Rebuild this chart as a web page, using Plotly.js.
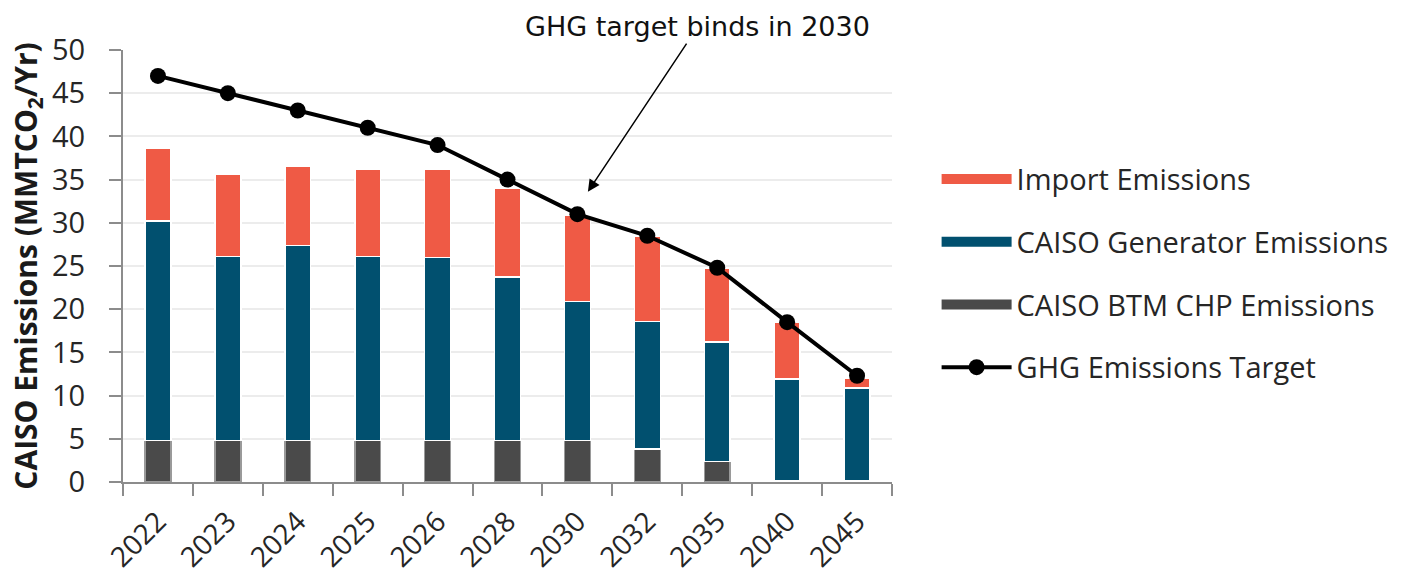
<!DOCTYPE html>
<html>
<head>
<meta charset="utf-8">
<script src="https://cdn.plot.ly/plotly-3.0.1.min.js"></script>
<style>html,body{margin:0;padding:0;background:#fff;}#chart{width:1406px;height:581px;}</style>
</head>
<body>
<div id="chart"></div>
<script>
const years = ["2022","2023","2024","2025","2026","2028","2030","2032","2035","2040","2045"];
const btmChp = [4.8, 4.8, 4.8, 4.8, 4.8, 4.8, 4.8, 3.8, 2.4, 0.1, 0.1];
const caisoGen = [25.4, 21.3, 22.6, 21.3, 21.2, 18.9, 16.1, 14.8, 13.8, 11.8, 10.8];
const imports = [8.4, 9.5, 9.2, 10.1, 10.2, 10.3, 10.0, 9.8, 8.5, 6.6, 1.1];
const ghgTarget = [47, 45, 43, 41, 39, 35, 31, 28.5, 24.8, 18.5, 12.3];

const seriesNames = ["Import Emissions", "CAISO Generator Emissions", "CAISO BTM CHP Emissions", "GHG Emissions Target"];
const seriesColors = ["#ef5a45", "#01506f", "#4a4a4a", "#000000"];

const FONT = "Open Sans, Noto Sans, sans-serif";
const TXT = "#262626";

const traces = [
  {type:"bar", name:seriesNames[2], x:years, y:btmChp, showlegend:false,
   marker:{color:seriesColors[2], line:{color:"#9a9a9a", width:1.5}}},
  {type:"bar", name:seriesNames[1], x:years, y:caisoGen, showlegend:false,
   marker:{color:seriesColors[1], line:{color:"#ffffff", width:1.5}}},
  {type:"bar", name:seriesNames[0], x:years, y:imports, showlegend:false,
   marker:{color:seriesColors[0], line:{color:"#ffffff", width:1.5}}},
  {type:"scatter", mode:"lines+markers", name:seriesNames[3], x:years, y:ghgTarget,
   line:{color:seriesColors[3], width:4}, marker:{color:seriesColors[3], size:16},
   legendrank:4, legendgroup:"d"},
  // legend keys for the stacked bar series (wide rectangles as in the reference)
  {type:"scatter", mode:"lines", name:seriesNames[0], x:[null], y:[null],
   line:{color:seriesColors[0], width:15}, legendrank:1, legendgroup:"a", hoverinfo:"skip"},
  {type:"scatter", mode:"lines", name:seriesNames[1], x:[null], y:[null],
   line:{color:seriesColors[1], width:15}, legendrank:2, legendgroup:"b", hoverinfo:"skip"},
  {type:"scatter", mode:"lines", name:seriesNames[2], x:[null], y:[null],
   line:{color:seriesColors[2], width:15}, legendrank:3, legendgroup:"c", hoverinfo:"skip"}
];

const layout = {
  width:1406, height:581,
  margin:{l:123, r:512, t:50, b:99},
  paper_bgcolor:"#ffffff", plot_bgcolor:"#ffffff",
  barmode:"stack", bargap:0.63,
  font:{family:FONT, color:TXT},
  showlegend:true,
  legend:{x:1.058, y:0.76, xanchor:"left", yanchor:"top", traceorder:"grouped",
          font:{family:FONT, size:29, color:TXT}, itemwidth:70, tracegroupgap:22,
          bgcolor:"rgba(0,0,0,0)"},
  xaxis:{type:"category", range:[-0.5,10.5], tickangle:-45, tickfont:{family:FONT, size:28, color:TXT},
         showline:true, linecolor:"#8c8c8c", linewidth:2, ticks:"outside", tickson:"boundaries",
         ticklen:12, tickcolor:"#8c8c8c", tickwidth:2, showgrid:false, fixedrange:true,
         ticklabelstandoff:10},
  yaxis:{range:[0,50], dtick:5, tick0:0, tickfont:{family:FONT, size:29, color:TXT},
         showline:true, linecolor:"#8c8c8c", linewidth:2, ticks:"outside", ticklen:12,
         tickcolor:"#8c8c8c", tickwidth:2, showgrid:true, gridcolor:"#ececec", gridwidth:2,
         zeroline:false, fixedrange:true, ticklabelstandoff:18,
         title:{text:"<b>CAISO Emissions (MMTCO<sub>2</sub>/Yr)</b>", font:{family:FONT, size:30, color:"#1a1a1a"}, standoff:6}},
  annotations:[{
    x:6.15, y:33.6, xref:"x", yref:"y",
    text:"GHG target binds in 2030", showarrow:true, arrowhead:2, arrowsize:1.6, arrowwidth:1.5,
    arrowcolor:"#000000", ax:110, ay:-165, font:{family:"DejaVu Sans, sans-serif", size:27, color:"#111"}
  }]
};

Plotly.newPlot("chart", traces, layout, {displayModeBar:false, staticPlot:true});
</script>
</body>
</html>
